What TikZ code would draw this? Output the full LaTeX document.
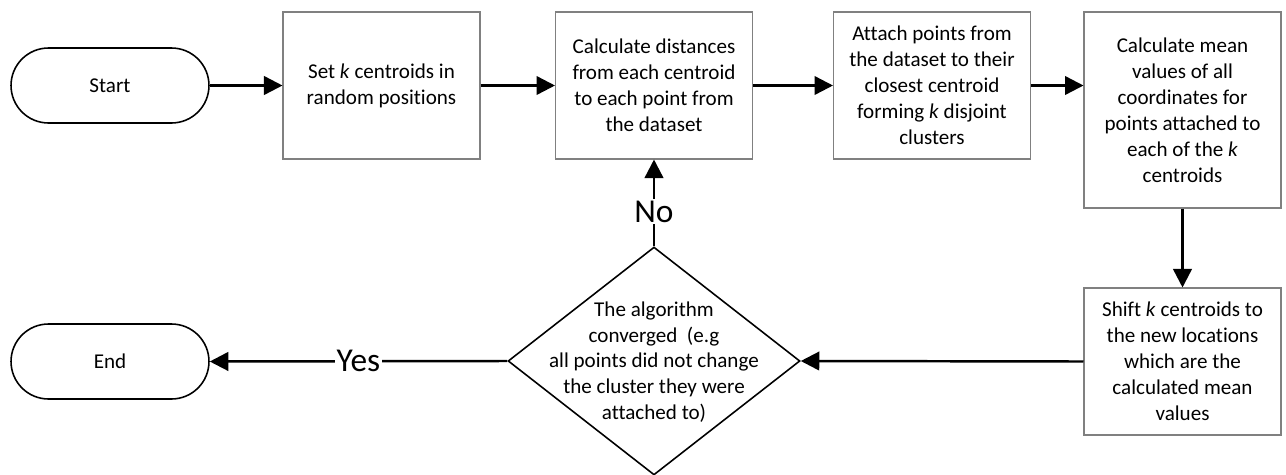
\documentclass[tikz,border=0pt]{standalone}
\usepackage{fontspec}
\setmainfont{Carlito}[Ligatures=NoCommon]
\usepackage{tikz}
\usetikzlibrary{arrows.meta,shapes.geometric}

\begin{document}
\begin{tikzpicture}[x=0.02cm, y=-0.02cm,
    box/.style={draw=gray, line width=0.6pt, rectangle, minimum width=3.94cm, minimum height=2.94cm, align=center, font=\fontsize{12}{14.8}\selectfont},
    terminal/.style={draw, line width=0.9pt, rectangle, rounded corners=0.75cm, minimum width=3.96cm, minimum height=1.5cm, font=\fontsize{12}{14.8}\selectfont},
    flow/.style={line width=1.4pt, -{Triangle[length=0.37cm, width=0.37cm]}},
    answer/.style={fill=white, inner sep=1pt, font=\fontsize{19}{21}\selectfont}]
            \useasboundingbox (0,0) rectangle (1286,474);

            % Top row - main steps
            \node[terminal] (start) at (110,85.5) {Start};
            \node[box] (setk) at (381.5,85.5) {Set \textit{k} centroids in\\random positions};
            \node[box] (calc) at (654,85.5) {Calculate distances\\from each centroid\\to each point from\\the dataset};
            \node[box] (attach) at (932,85.5) {Attach points from\\the dataset to their\\closest centroid\\forming \textit{k} disjoint\\clusters};
            \node[box, minimum height=3.92cm] (mean) at (1182.5,110) {Calculate mean\\values of all\\coordinates for\\points attached to\\each of the \textit{k}\\centroids};

            % Bottom row - update and check
            \node[box] (shift) at (1182.5,361.5) {Shift \textit{k} centroids to\\the new locations\\which are the\\calculated mean\\values};
            \node[draw, diamond, line width=0.9pt, minimum width=5.84cm, minimum height=4.56cm, inner sep=0pt] (conv) at (654,361) {};
            \node[align=center, font=\fontsize{12}{14.6}\selectfont] (convtext) at (654,362) {The algorithm\\converged\ \ (e.g\\all points did not change\\the cluster they were\\attached to)};
            \node[terminal] (end) at (110,361.5) {End};

            % Arrows
            \draw[flow] (start) -- (setk);
            \draw[flow] (setk) -- (calc);
            \draw[flow] (calc) -- (attach);
            \draw[flow] (attach.east) -- (attach.east -| mean.west);
            \draw[flow] (mean) -- (shift);
            \draw[flow] (shift.west) -- (conv.east);
            \draw[flow] (conv.west) -- node[answer] {Yes} (end.east);
            \draw[flow] (conv.north) -- node[answer, pos=0.4] {No} (calc.south);
        \end{tikzpicture}
\end{document}
